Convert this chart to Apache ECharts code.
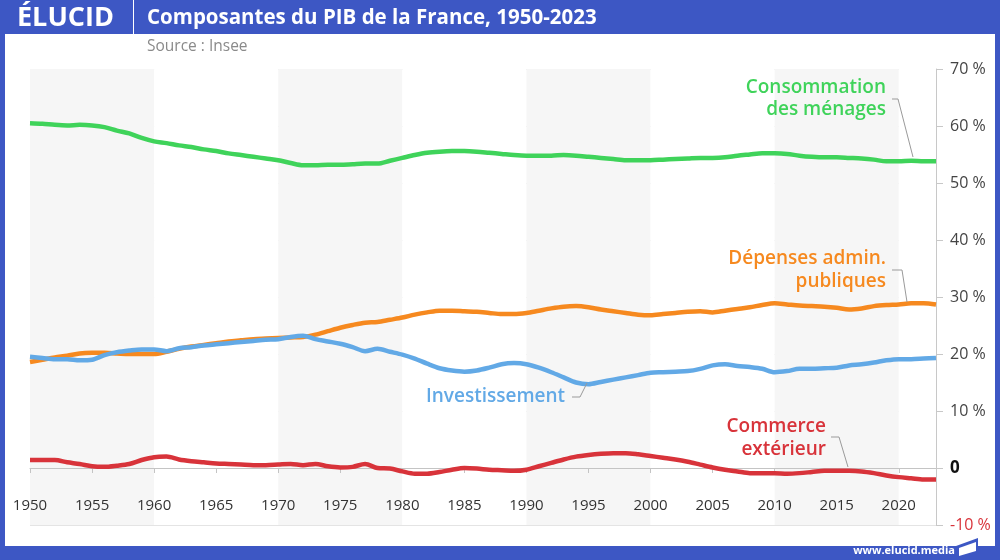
<!DOCTYPE html>
<html>
<head>
<meta charset="utf-8">
<script src="https://cdn.jsdelivr.net/npm/echarts@6/dist/echarts.min.js"></script>
<style>
html,body{margin:0;padding:0;background:#3d57c4;}
#chart{width:1000px;height:560px;}
</style>
</head>
<body>
<div id="chart"></div>
<script>
// ---- Data (share of GDP, %) ----
var years = [];
for (var y = 1950; y <= 2023; y++) years.push(y);

var consommation = [
60.5,60.4,60.2,60.1,60.2,60.1,59.8,59.2,58.7,57.9,
57.3,57.0,56.6,56.3,55.9,55.6,55.2,54.9,54.6,54.3,
54.0,53.5,53.1,53.1,53.2,53.2,53.3,53.4,53.4,53.9,
54.4,54.9,55.3,55.5,55.6,55.6,55.5,55.3,55.1,54.9,
54.8,54.8,54.8,54.9,54.8,54.6,54.4,54.2,54.0,54.0,
54.0,54.1,54.2,54.3,54.4,54.4,54.5,54.8,55.0,55.2,
55.2,55.1,54.8,54.6,54.5,54.5,54.4,54.3,54.1,53.8,
53.8,53.9,53.8,53.8];

var depensesPubliques = [
18.6,19.0,19.4,19.7,20.1,20.2,20.2,20.1,20.0,20.0,
20.0,20.4,20.9,21.3,21.6,21.9,22.2,22.4,22.6,22.7,
22.8,22.9,23.0,23.4,24.0,24.6,25.1,25.5,25.6,26.0,
26.4,26.9,27.3,27.6,27.6,27.5,27.4,27.2,27.0,27.0,
27.2,27.6,28.0,28.3,28.4,28.2,27.8,27.5,27.2,26.9,
26.8,27.0,27.2,27.4,27.5,27.3,27.6,27.9,28.2,28.6,
28.9,28.7,28.5,28.4,28.3,28.1,27.8,28.0,28.4,28.6,
28.7,28.9,28.9,28.7];

var investissement = [
19.5,19.3,19.1,19.1,18.9,19.0,19.8,20.3,20.6,20.8,
20.8,20.5,21.0,21.2,21.5,21.7,21.9,22.1,22.3,22.5,
22.6,23.0,23.2,22.6,22.2,21.8,21.2,20.5,20.9,20.4,
19.9,19.2,18.3,17.5,17.1,16.9,17.1,17.6,18.2,18.4,
18.2,17.6,16.8,15.9,15.0,14.7,15.1,15.5,15.9,16.3,
16.7,16.8,16.9,17.0,17.4,18.0,18.2,17.9,17.7,17.4,
16.8,17.0,17.4,17.4,17.5,17.6,18.0,18.2,18.5,18.9,
19.1,19.1,19.2,19.3];

var commerceExterieur = [
1.4,1.4,1.4,1.0,0.7,0.3,0.2,0.4,0.7,1.4,
1.9,2.0,1.5,1.2,1.0,0.8,0.7,0.6,0.5,0.5,
0.6,0.7,0.5,0.7,0.3,0.1,0.2,0.7,0.0,-0.1,
-0.6,-1.0,-1.0,-0.7,-0.3,0.0,-0.1,-0.3,-0.4,-0.5,
-0.3,0.3,0.9,1.5,2.0,2.3,2.5,2.6,2.6,2.4,
2.1,1.8,1.5,1.1,0.6,0.1,-0.3,-0.6,-0.9,-0.9,
-0.9,-1.0,-0.9,-0.7,-0.5,-0.5,-0.5,-0.6,-0.9,-1.3,
-1.6,-1.8,-2.0,-2.0];

var xTickYears = [1950,1955,1960,1965,1970,1975,1980,1985,1990,1995,2000,2005,2010,2015,2020];
var yTicks = [-10,0,10,20,30,40,50,60,70];

function pairs(vals){ return years.map(function(yr,i){ return [yr, vals[i]]; }); }

var FONT = '"Open Sans", "DejaVu Sans", sans-serif';
var C_GREEN = '#3fd35a', C_ORANGE = '#f6891f', C_BLUE = '#62a9e6', C_RED = '#d8333a';

function lineSeries(name, vals, color){
  return {
    name: name, type: 'line', data: pairs(vals), xAxisIndex: 0, yAxisIndex: 0,
    smooth: 0.3, symbol: 'none', z: 5,
    lineStyle: { color: color, width: 4.5 }
  };
}
function txt(t, x, y, color, align){
  return { type: 'text', z: 100, style: { text: t, x: x, y: y, fill: color, align: align || 'right',
    verticalAlign: 'middle', font: '600 19px ' + FONT } };
}
function leader(pts){
  return { type: 'polyline', z: 100, shape: { points: pts }, style: { stroke: '#9a9a9a', lineWidth: 1, fill: null } };
}

// grid 0: plot area (-10 .. 70 %); grid 1: same width, bottom edge at the 0 % level, carries the year axis
var chart = echarts.init(document.getElementById('chart'), null, { renderer: 'canvas' });
chart.setOption({
  backgroundColor: '#3d57c4',
  animation: false,
  grid: [
    { left: 30, right: 64, top: 69, bottom: 35, containLabel: false, outerBoundsMode: 'none' },
    { left: 30, right: 64, top: 69, bottom: 92, containLabel: false, outerBoundsMode: 'none' }
  ],
  xAxis: [{
    gridIndex: 0, type: 'value', min: 1950, max: 2023, interval: 10, position: 'bottom',
    axisLine: { show: false, onZero: false }, axisTick: { show: false }, axisLabel: { show: false },
    splitLine: { show: false },
    splitArea: { show: true, areaStyle: { color: ['#f6f6f6', '#ffffff'] } }
  }, {
    gridIndex: 1, type: 'value', min: 1950, max: 2023, interval: 5, position: 'bottom',
    axisLine: { show: true, onZero: false, lineStyle: { color: '#c4c4c4', width: 1 } },
    axisTick: { show: true, length: 5, lineStyle: { color: '#c4c4c4' }, customValues: xTickYears },
    axisLabel: { customValues: xTickYears, margin: 30, color: '#333', fontSize: 15, fontFamily: FONT,
      formatter: function(v){ return String(v); } },
    splitLine: { show: false }
  }],
  yAxis: [{
    gridIndex: 0, type: 'value', position: 'right', min: -10, max: 70, interval: 10,
    axisLine: { show: true, onZero: false, lineStyle: { color: '#c8c8c8' } },
    axisTick: { show: true, length: 7, lineStyle: { color: '#c8c8c8' } },
    splitLine: { show: true, lineStyle: { color: '#e4e4e4' } },
    axisLabel: {
      margin: 14, fontSize: 16, fontFamily: FONT, color: '#444',
      formatter: function(v){ if (v === 0) return '{z|0}'; if (v < 0) return '{n|' + v + ' %}'; return v + ' %'; },
      rich: { z: { fontSize: 17, fontWeight: 'bold', color: '#111', fontFamily: FONT },
              n: { fontSize: 16, color: C_RED, fontFamily: FONT } }
    }
  }, {
    gridIndex: 1, type: 'value', min: 0, max: 70, show: false
  }],
  series: [
    lineSeries('Consommation des ménages', consommation, C_GREEN),
    lineSeries('Dépenses admin. publiques', depensesPubliques, C_ORANGE),
    lineSeries('Investissement', investissement, C_BLUE),
    lineSeries('Commerce extérieur', commerceExterieur, C_RED)
  ],
  graphic: [
    { type: 'rect', z: -100, silent: true, shape: { x: 5, y: 34, width: 990, height: 512 }, style: { fill: '#ffffff' } },
    { type: 'text', z: 100, style: { text: 'ÉLUCID', x: 17, y: 18, verticalAlign: 'middle', fill: '#ffffff', font: 'bold 27px ' + FONT } },
    { type: 'line', z: 100, shape: { x1: 133.5, y1: 0, x2: 133.5, y2: 34 }, style: { stroke: '#ffffff', lineWidth: 1 } },
    { type: 'text', z: 100, style: { text: 'Composantes du PIB de la France, 1950-2023', x: 147, y: 18, verticalAlign: 'middle', fill: '#ffffff', font: 'bold 20.5px ' + FONT } },
    { type: 'text', z: 100, style: { text: 'Source : Insee', x: 147, y: 47, verticalAlign: 'middle', fill: '#8a8a8a', font: '15.5px ' + FONT } },
    txt('Consommation', 886, 88, C_GREEN), txt('des ménages', 886, 110, C_GREEN),
    leader([[892, 99], [898, 99], [913, 157]]),
    txt('Dépenses admin.', 886, 259, C_ORANGE), txt('publiques', 886, 282, C_ORANGE),
    leader([[892, 270], [902, 270], [907, 302]]),
    txt('Investissement', 426, 397, C_BLUE, 'left'),
    leader([[572, 397], [580, 397], [587, 383]]),
    txt('Commerce', 826, 427, C_RED), txt('extérieur', 826, 450, C_RED),
    leader([[831, 437], [839, 437], [848, 467]]),
    { type: 'text', z: 100, style: { text: 'www.elucid.media', x: 955, y: 551, align: 'right', verticalAlign: 'middle', fill: '#ffffff', font: 'bold 11px ' + FONT } },
    { type: 'polygon', z: 100, shape: { points: [[956, 546], [978, 538], [978, 546]] }, style: { fill: '#3d57c4' } },
    { type: 'polygon', z: 101, shape: { points: [[959, 548], [976, 542], [976, 551], [959, 556]] }, style: { fill: '#ffffff' } }
  ]
});
</script>
</body>
</html>
